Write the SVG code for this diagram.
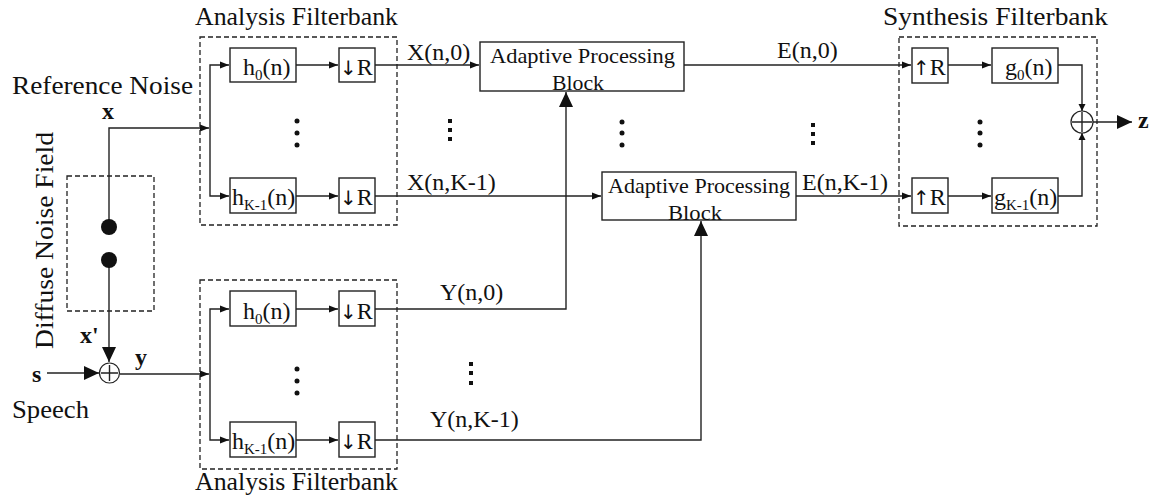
<svg xmlns="http://www.w3.org/2000/svg" width="1153" height="497" viewBox="0 0 1153 497">
<defs>
<style>
.bx{fill:#fff;stroke:#222;stroke-width:1.4}
.dash{fill:none;stroke:#222;stroke-width:1.3;stroke-dasharray:5,3}
.ln{fill:none;stroke:#222;stroke-width:1.4}
.t{font-family:"Liberation Serif","Times New Roman",serif;font-size:24px;fill:#111}
.tl{font-family:"Liberation Serif","Times New Roman",serif;font-size:25px;fill:#111}
.tb{font-family:"Liberation Serif","Times New Roman",serif;font-size:24px;font-weight:bold;fill:#111}
.ta{font-family:"Liberation Serif","Times New Roman",serif;font-size:21px;fill:#111}
.sub{font-size:15px}
.arr{font-family:"DejaVu Sans",sans-serif;font-size:20px;fill:#111}
.dot{fill:#111}
</style>
<marker id="a" markerUnits="userSpaceOnUse" markerWidth="10" markerHeight="8" refX="9" refY="4" orient="auto"><path d="M0,0.5 L9,4 L0,7.5 z" fill="#111"/></marker>
<marker id="A" markerUnits="userSpaceOnUse" markerWidth="16" markerHeight="16" refX="15" refY="8" orient="auto"><path d="M0,1 L15,8 L0,15 z" fill="#111"/></marker>
<marker id="s" markerUnits="userSpaceOnUse" markerWidth="8" markerHeight="8" refX="7" refY="4" orient="auto"><path d="M0,0.5 L7,4 L0,7.5 z" fill="#111"/></marker>
</defs>
<rect width="1153" height="497" fill="#fff"/>

<g id="connectors">
<path class="ln" d="M109,227 V128 H209" marker-end="url(#a)"/>
<path class="ln" d="M109,260 V362" marker-end="url(#A)"/>
<path class="ln" d="M47,373 H99" marker-end="url(#A)"/>
<path class="ln" d="M120,374 H209" marker-end="url(#a)"/>
<path class="ln" d="M210,128 V65 H229" marker-end="url(#a)"/>
<path class="ln" d="M210,128 V196 H229" marker-end="url(#a)"/>
<path class="ln" d="M296,65 H338" marker-end="url(#a)"/>
<path class="ln" d="M296,196 H338" marker-end="url(#a)"/>
<path class="ln" d="M210,374 V309 H229" marker-end="url(#a)"/>
<path class="ln" d="M210,374 V440 H229" marker-end="url(#a)"/>
<path class="ln" d="M296,309 H338" marker-end="url(#a)"/>
<path class="ln" d="M296,440 H338" marker-end="url(#a)"/>
<path class="ln" d="M375,65 H479" marker-end="url(#a)"/>
<path class="ln" d="M375,196 H601" marker-end="url(#a)"/>
<path class="ln" d="M375,309 H566 V92" marker-end="url(#A)"/>
<path class="ln" d="M375,440 H701 V221" marker-end="url(#A)"/>
<path class="ln" d="M684,65 H911" marker-end="url(#a)"/>
<path class="ln" d="M796,196 H911" marker-end="url(#a)"/>
<path class="ln" d="M948,65 H991" marker-end="url(#a)"/>
<path class="ln" d="M948,196 H991" marker-end="url(#a)"/>
<path class="ln" d="M1058,65 H1082 V111" marker-end="url(#s)"/>
<path class="ln" d="M1058,196 H1082 V133" marker-end="url(#s)"/>
<path class="ln" d="M1093,122 H1132" marker-end="url(#A)"/>
</g>

<g id="diffuse-noise-field">
<rect class="dash" x="67" y="176" width="87" height="135"/>
<circle class="dot" cx="109" cy="227" r="8"/>
<circle class="dot" cx="109" cy="260" r="8"/>
<text class="tl" transform="translate(53,349) rotate(-90)" textLength="217" lengthAdjust="spacingAndGlyphs">Diffuse Noise Field</text>
</g>

<g id="labels-left">
<text class="tl" x="12" y="94" textLength="181" lengthAdjust="spacingAndGlyphs">Reference Noise</text>
<text class="tb" x="102" y="119">x</text>
<text class="tb" x="80" y="343">x'</text>
<text class="tb" x="32" y="382">s</text>
<text class="tb" x="135" y="365">y</text>
<text class="tl" x="12" y="418" textLength="77" lengthAdjust="spacingAndGlyphs">Speech</text>
</g>

<g id="sum-left">
<circle cx="109.5" cy="373" r="10" fill="#fff" stroke="#222" stroke-width="1.2"/>
<path class="ln" d="M101,373 H118 M109.5,365 V381" stroke-width="1"/>
</g>

<g id="analysis-top">
<rect class="dash" x="200" y="37" width="197" height="188"/>
<text class="tl" x="195" y="25" textLength="203" lengthAdjust="spacingAndGlyphs">Analysis Filterbank</text>
<rect class="bx" x="230" y="48" width="66" height="34"/>
<text class="t" x="243" y="75">h<tspan class="sub" dy="5">0</tspan><tspan dy="-5">(n)</tspan></text>
<rect class="bx" x="339" y="48" width="36" height="34"/>
<text class="t" x="340" y="75"><tspan class="arr">↓</tspan>R</text>
<rect class="bx" x="230" y="178" width="66" height="35"/>
<text class="t" x="232" y="205">h<tspan class="sub" dy="5">K-1</tspan><tspan dy="-5">(n)</tspan></text>
<rect class="bx" x="339" y="178" width="36" height="35"/>
<text class="t" x="340" y="205"><tspan class="arr">↓</tspan>R</text>
<circle class="dot" cx="297" cy="121" r="2.5"/>
<circle class="dot" cx="297" cy="133" r="2.5"/>
<circle class="dot" cx="297" cy="145" r="2.5"/>
</g>

<g id="analysis-bottom">
<rect class="dash" x="200" y="280" width="197" height="189"/>
<text class="tl" x="195" y="490" textLength="203" lengthAdjust="spacingAndGlyphs">Analysis Filterbank</text>
<rect class="bx" x="230" y="291" width="66" height="35"/>
<text class="t" x="243" y="319">h<tspan class="sub" dy="5">0</tspan><tspan dy="-5">(n)</tspan></text>
<rect class="bx" x="339" y="291" width="36" height="35"/>
<text class="t" x="340" y="319"><tspan class="arr">↓</tspan>R</text>
<rect class="bx" x="230" y="422" width="66" height="35"/>
<text class="t" x="232" y="449">h<tspan class="sub" dy="5">K-1</tspan><tspan dy="-5">(n)</tspan></text>
<rect class="bx" x="339" y="422" width="36" height="35"/>
<text class="t" x="340" y="449"><tspan class="arr">↓</tspan>R</text>
<circle class="dot" cx="297" cy="369" r="2.5"/>
<circle class="dot" cx="297" cy="381" r="2.5"/>
<circle class="dot" cx="297" cy="393" r="2.5"/>
</g>

<g id="signal-labels">
<text class="t" x="407" y="60">X(n,0)</text>
<text class="t" x="407" y="190">X(n,K-1)</text>
<text class="t" x="440" y="300">Y(n,0)</text>
<text class="t" x="430" y="427">Y(n,K-1)</text>
<text class="t" x="777" y="58">E(n,0)</text>
<text class="t" x="802" y="190">E(n,K-1)</text>
<rect class="dot" x="448" y="119" width="4" height="4"/>
<rect class="dot" x="448" y="128" width="4" height="4"/>
<rect class="dot" x="448" y="137" width="4" height="4"/>
<rect class="dot" x="469" y="362" width="4" height="4"/>
<rect class="dot" x="469" y="371" width="4" height="4"/>
<rect class="dot" x="469" y="381" width="4" height="4"/>
<rect class="dot" x="811" y="123" width="4" height="4"/>
<rect class="dot" x="811" y="132" width="4" height="4"/>
<rect class="dot" x="811" y="141" width="4" height="4"/>
<circle class="dot" cx="622" cy="122" r="2.5"/>
<circle class="dot" cx="622" cy="133" r="2.5"/>
<circle class="dot" cx="622" cy="145" r="2.5"/>
</g>

<g id="adaptive-block-0">
<rect class="bx" x="480" y="42" width="204" height="49"/>
<text class="ta" x="490" y="63" textLength="185" lengthAdjust="spacingAndGlyphs">Adaptive Processing</text>
<text class="ta" x="552" y="90" textLength="52" lengthAdjust="spacingAndGlyphs">Block</text>
</g>

<g id="adaptive-block-k">
<rect class="bx" x="602" y="172" width="194" height="48"/>
<text class="ta" x="608" y="193" textLength="182" lengthAdjust="spacingAndGlyphs">Adaptive Processing</text>
<text class="ta" x="668" y="220" textLength="54" lengthAdjust="spacingAndGlyphs">Block</text>
</g>

<g id="synthesis">
<rect class="dash" x="899" y="37" width="198" height="189"/>
<text class="tl" x="883" y="25" textLength="225" lengthAdjust="spacingAndGlyphs">Synthesis Filterbank</text>
<rect class="bx" x="912" y="48" width="36" height="35"/>
<text class="t" x="913" y="75"><tspan class="arr">↑</tspan>R</text>
<rect class="bx" x="992" y="48" width="66" height="35"/>
<text class="t" x="1005" y="75">g<tspan class="sub" dy="5">0</tspan><tspan dy="-5">(n)</tspan></text>
<rect class="bx" x="912" y="178" width="36" height="35"/>
<text class="t" x="913" y="205"><tspan class="arr">↑</tspan>R</text>
<rect class="bx" x="992" y="178" width="66" height="35"/>
<text class="t" x="994" y="205">g<tspan class="sub" dy="5">K-1</tspan><tspan dy="-5">(n)</tspan></text>
<circle class="dot" cx="980" cy="122" r="2.5"/>
<circle class="dot" cx="980" cy="133" r="2.5"/>
<circle class="dot" cx="980" cy="145" r="2.5"/>
<circle cx="1082" cy="122" r="11" fill="#fff" stroke="#222" stroke-width="1.2"/>
<path class="ln" d="M1072,122 H1092 M1082,112 V132" stroke-width="1"/>
<text class="tb" x="1138" y="128">z</text>
</g>
</svg>
